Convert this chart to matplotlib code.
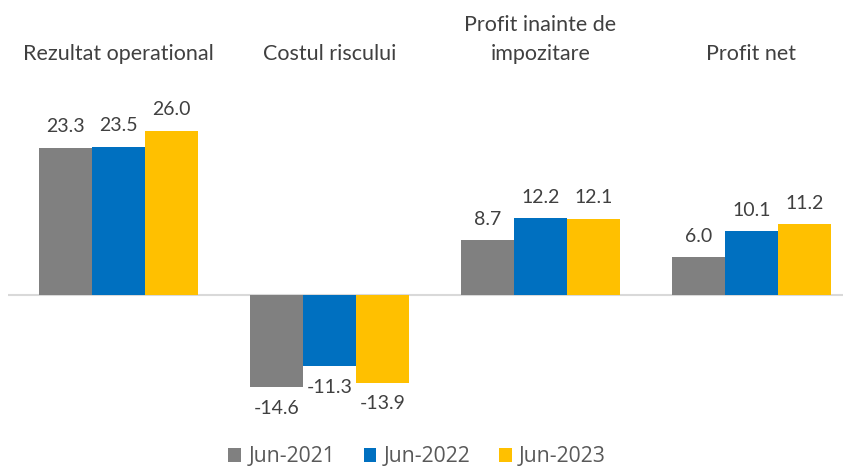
import matplotlib
matplotlib.use("Agg")
import matplotlib.pyplot as plt
import matplotlib.transforms as mtransforms
from matplotlib.patches import Patch
import numpy as np

plt.rcParams['font.family'] = ['Lato', 'DejaVu Sans']

categories = ["Rezultat operational", "Costul riscului", "Profit inainte de\nimpozitare", "Profit net"]
series_names = ["Jun-2021", "Jun-2022", "Jun-2023"]
jun2021 = [23.3, -14.6, 8.7, 6.0]
jun2022 = [23.5, -11.3, 12.2, 10.1]
jun2023 = [26.0, -13.9, 12.1, 11.2]
colors = ["#808080", "#0070C0", "#FFC000"]

W, H = 843, 466
fig = plt.figure(figsize=(W/100, H/100), dpi=100)
top_px, bot_px = 70, 420
left_px = 8
ax = fig.add_axes([left_px/W, 1 - bot_px/H, 1 - left_px/W, (bot_px - top_px)/H])

ppu = 6.31
zero_px = 295
ax.set_ylim(-(bot_px - zero_px)/ppu, (zero_px - top_px)/ppu)
ax.set_xlim(-0.524, 3.434)

x = np.arange(len(categories))
w = 0.25
for i, (vals, c) in enumerate(zip([jun2021, jun2022, jun2023], colors)):
    pos = x + (i - 1) * w
    ax.bar(pos, vals, width=w, color=c, zorder=2)
    for xp, v in zip(pos, vals):
        off = 9 if v >= 0 else -9
        ax.annotate(f"{v:.1f}", (xp, v), xytext=(0, off), textcoords='offset points',
                    ha='center', va='bottom' if v >= 0 else 'top',
                    fontsize=14, color='#404040')

ax.axhline(0, color='#D9D9D9', lw=1.5, zorder=1)
for s in ax.spines.values():
    s.set_visible(False)
ax.set_xticks([])
ax.set_yticks([])

trans = mtransforms.blended_transform_factory(ax.transData, fig.transFigure)
for xp, cat in zip(x, categories):
    fig.text(xp, 1 - 64/H, cat, transform=trans, ha='center', va='bottom',
             fontsize=15.5, color='#404040', linespacing=1.55)

handles = [Patch(facecolor=c, edgecolor='none') for c in colors]
fig.legend(handles, series_names, loc='center', bbox_to_anchor=(417/W, 1 - 457/H),
           ncol=3, frameon=False, prop={'family': ['Open Sans', 'DejaVu Sans'], 'size': 15.2},
           labelcolor='#595959',
           handlelength=0.6, handleheight=0.6, handletextpad=0.35, columnspacing=1.35)

fig.savefig("out.png", dpi=100)
